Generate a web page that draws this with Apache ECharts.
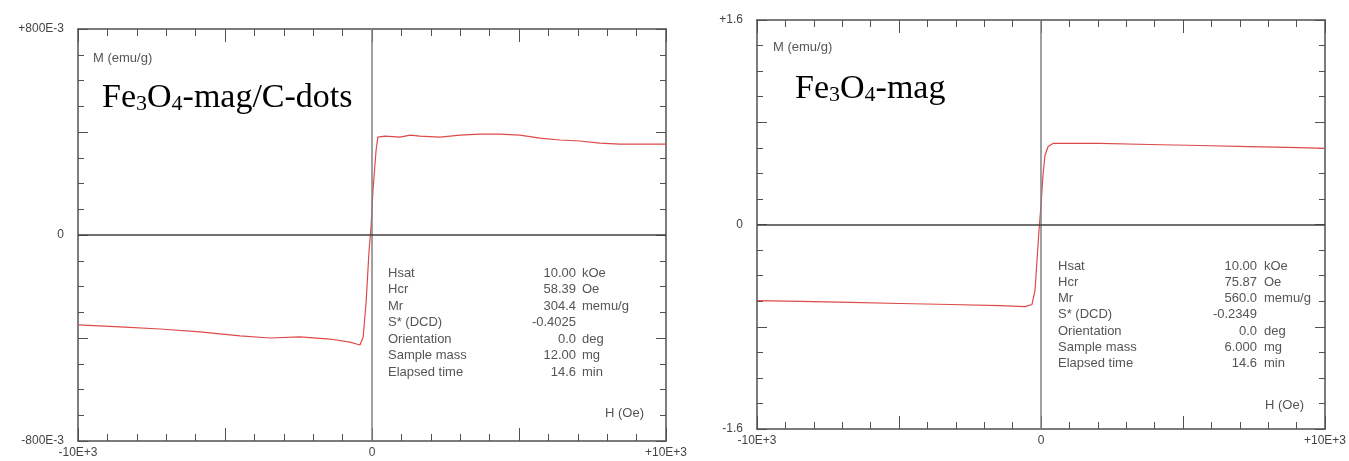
<!DOCTYPE html>
<html>
<head>
<meta charset="utf-8">
<script src="https://cdn.jsdelivr.net/npm/echarts@6/dist/echarts.min.js"></script>
<style>
  html, body { margin: 0; padding: 0; background: #fff; }
  #chart { width: 1349px; height: 461px; }
</style>
</head>
<body>
<div id="chart"></div>
<script>
// left panel: Fe3O4-mag/C-dots, H in Oe, M in emu/g
const leftH = [-10000, -8570, -7210, -5850, -4490, -3470, -2450, -1430, -750, -410, -300, -200, -100, -30, 30, 140, 200, 440, 950, 1300, 1630, 2310, 3000, 3670, 4350, 5030, 5710, 6390, 7070, 7750, 8430, 9110, 10000]
const leftM = [-0.349, -0.357, -0.365, -0.376, -0.392, -0.400, -0.396, -0.404, -0.416, -0.427, -0.396, -0.26, -0.06, 0.035, 0.17, 0.33, 0.38, 0.384, 0.38, 0.388, 0.384, 0.38, 0.388, 0.392, 0.392, 0.388, 0.376, 0.369, 0.365, 0.357, 0.353, 0.353, 0.353]

// right panel: Fe3O4-mag
const rightH = [-10000, -8460, -6700, -4950, -3190, -1440, -560, -320, -210, -140, -70, 0, 70, 140, 250, 420, 1020, 2070, 3820, 5580, 7330, 9090, 10000]
const rightM = [-0.595, -0.602, -0.61, -0.618, -0.626, -0.634, -0.642, -0.626, -0.516, -0.28, -0.047, 0.149, 0.383, 0.54, 0.61, 0.634, 0.634, 0.634, 0.626, 0.618, 0.61, 0.602, 0.595]

const xTickLabels = ['-10E+3', '0', '+10E+3']
const leftYTickLabels = ['-800E-3', '0', '+800E-3']
const rightYTickLabels = ['-1.6', '0', '+1.6']

const infoLabels = ['Hsat', 'Hcr', 'Mr', 'S* (DCD)', 'Orientation', 'Sample mass', 'Elapsed time']
const leftInfoValues = ['10.00', '58.39', '304.4', '-0.4025', '0.0', '12.00', '14.6']
const rightInfoValues = ['10.00', '75.87', '560.0', '-0.2349', '0.0', '6.000', '14.6']
const infoUnits = ['kOe', 'Oe', 'memu/g', '', 'deg', 'mg', 'min']

const chart = echarts.init(document.getElementById('chart'))

const frameColor = '#505050'
const smallFont = 'Liberation Sans'

const tickFormatter = (labels, max) => (v) => {
  if (Math.abs(v + max) < 1e-9) return labels[0]
  if (Math.abs(v) < 1e-9) return labels[1]
  if (Math.abs(v - max) < 1e-9) return labels[2]
  return ''
}

const makeXAxes = (gridIndex) => {
  const base = {
    type: 'value',
    gridIndex,
    min: -10000,
    max: 10000,
    interval: 5000,
    splitLine: { show: false },
    axisLine: { show: true, onZero: false, lineStyle: { color: frameColor, width: 1.5 } },
    axisTick: { show: true, inside: true, length: 13, lineStyle: { color: frameColor } },
    minorTick: { show: true, splitNumber: 5, length: 7, lineStyle: { color: frameColor } },
  }
  return [
    {
      ...base,
      position: 'bottom',
      axisLabel: {
        show: true,
        showMinLabel: true,
        showMaxLabel: true,
        margin: 6,
        color: '#444',
        fontSize: 12,
        fontFamily: smallFont,
        formatter: tickFormatter(xTickLabels, 10000),
      },
    },
    { ...base, position: 'top', axisLabel: { show: false } },
  ]
}

const makeYAxes = (gridIndex, max, labels) => {
  const base = {
    type: 'value',
    gridIndex,
    min: -max,
    max: max,
    interval: max / 2,
    splitLine: { show: false },
    axisLine: { show: true, onZero: false, lineStyle: { color: frameColor, width: 1.5 } },
    axisTick: { show: true, inside: true, length: 10, lineStyle: { color: frameColor } },
    minorTick: { show: true, splitNumber: 4, length: 6, lineStyle: { color: frameColor } },
  }
  return [
    {
      ...base,
      position: 'left',
      axisLabel: {
        show: true,
        showMinLabel: true,
        showMaxLabel: true,
        margin: 14,
        color: '#444',
        fontSize: 12,
        fontFamily: smallFont,
        formatter: tickFormatter(labels, max),
      },
    },
    { ...base, position: 'right', axisLabel: { show: false } },
  ]
}

const zeroLines = {
  silent: true,
  symbol: 'none',
  label: { show: false },
  animation: false,
  data: [
    { xAxis: 0, lineStyle: { color: '#808080', width: 1.5, type: 'solid' } },
    { yAxis: 0, lineStyle: { color: '#404040', width: 1.5, type: 'solid' } },
  ],
}

const titleRich = {
  n: { fontFamily: 'Liberation Serif', fontSize: 34, lineHeight: 36, color: '#1a1a1a', verticalAlign: 'bottom' },
  s: { fontFamily: 'Liberation Serif', fontSize: 22, lineHeight: 20, color: '#1a1a1a', verticalAlign: 'bottom' },
}

const smallText = (x, y, text, align) => ({
  type: 'text',
  x,
  y,
  silent: true,
  style: {
    text,
    fill: '#555',
    font: '13px "Liberation Sans"',
    align: align || 'left',
    verticalAlign: 'middle',
  },
})

const infoBlock = (labelX, valueX, unitX, top, step, values) => {
  const items = []
  infoLabels.forEach((label, i) => {
    const y = top + i * step
    items.push(smallText(labelX, y, label, 'left'))
    items.push(smallText(valueX, y, values[i], 'right'))
    if (infoUnits[i]) items.push(smallText(unitX, y, infoUnits[i], 'left'))
  })
  return items
}

const option = {
  animation: false,
  backgroundColor: '#fff',
  grid: [
    { left: 78, top: 29, width: 588, height: 412 },
    { left: 757, top: 20, width: 569, height: 409 },
  ],
  xAxis: [...makeXAxes(0), ...makeXAxes(1)],
  yAxis: [...makeYAxes(0, 0.8, leftYTickLabels), ...makeYAxes(1, 1.6, rightYTickLabels)],
  series: [
    {
      name: 'Fe3O4-mag/C-dots',
      type: 'line',
      xAxisIndex: 0,
      yAxisIndex: 0,
      showSymbol: false,
      data: leftH.map((h, i) => [h, leftM[i]]),
      lineStyle: { color: '#dd4a4a', width: 1.2 },
      markLine: zeroLines,
      z: 3,
    },
    {
      name: 'Fe3O4-mag',
      type: 'line',
      xAxisIndex: 2,
      yAxisIndex: 2,
      showSymbol: false,
      data: rightH.map((h, i) => [h, rightM[i]]),
      lineStyle: { color: '#dd4a4a', width: 1.2 },
      markLine: zeroLines,
      z: 3,
    },
  ],
  graphic: [
    smallText(93, 58, 'M (emu/g)'),
    smallText(773, 47, 'M (emu/g)'),
    smallText(605, 413, 'H (Oe)'),
    smallText(1265, 405, 'H (Oe)'),
    {
      type: 'text',
      x: 102,
      y: 79,
      silent: true,
      style: { text: '{n|Fe}{s|3}{n|O}{s|4}{n|-mag/C-dots}', rich: titleRich, verticalAlign: 'top' },
    },
    {
      type: 'text',
      x: 795,
      y: 70,
      silent: true,
      style: { text: '{n|Fe}{s|3}{n|O}{s|4}{n|-mag}', rich: titleRich, verticalAlign: 'top' },
    },
    ...infoBlock(388, 576, 582, 273, 16.5, leftInfoValues),
    ...infoBlock(1058, 1257, 1264, 266, 16.3, rightInfoValues),
  ],
}

chart.setOption(option)
</script>
</body>
</html>
